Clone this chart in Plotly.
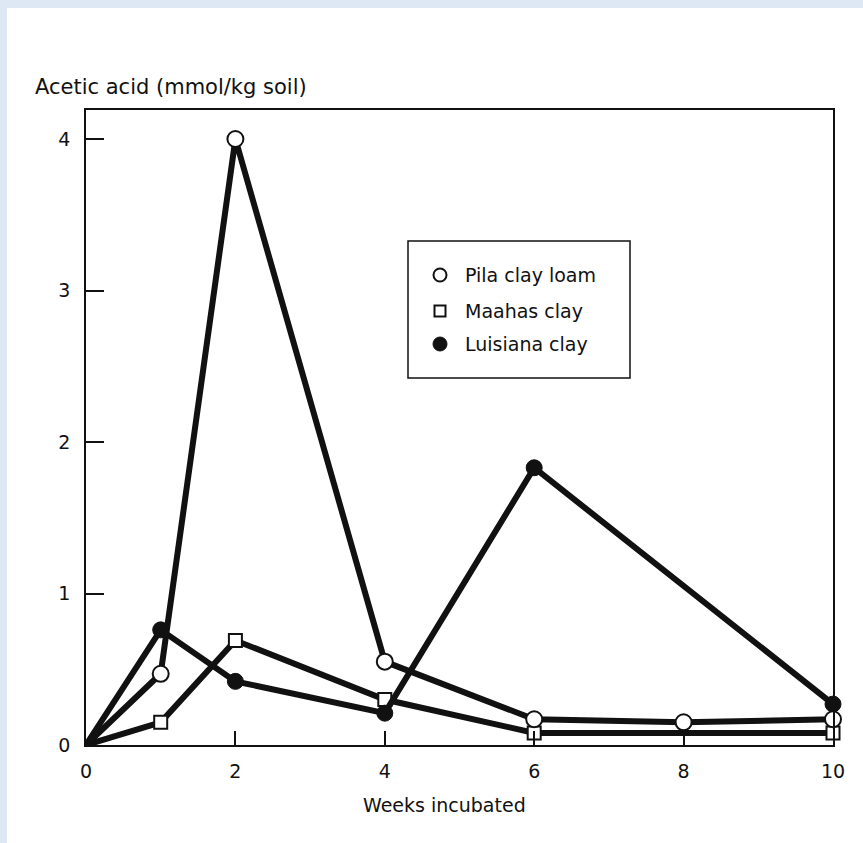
import plotly.graph_objects as go

# Acetic acid in incubated soils (mmol/kg soil) by week
pila_weeks = [0, 1, 2, 4, 6, 8, 10]
pila_acetic = [0, 0.47, 4.0, 0.55, 0.17, 0.15, 0.17]

maahas_weeks = [0, 1, 2, 4, 6, 10]
maahas_acetic = [0, 0.15, 0.69, 0.30, 0.08, 0.08]

luisiana_weeks = [0, 1, 2, 4, 6, 10]
luisiana_acetic = [0, 0.76, 0.42, 0.21, 1.83, 0.27]

x_ticks = [0, 2, 4, 6, 8, 10]
y_ticks = [0, 1, 2, 3, 4]

legend_names = ["Pila clay loam", "Maahas clay", "Luisiana clay"]

W, H = 863, 843
L, R, T, B = 86, 833, 110, 745  # plot area in pixels
FONT = "DejaVu Sans"
INK = "#111111"


def px_x(p):
    return (p - L) / (R - L)


def px_y(p):
    return (B - p) / (B - T)


fig = go.Figure()

line_style = dict(color=INK, width=6)

fig.add_trace(go.Scatter(
    x=maahas_weeks, y=maahas_acetic, mode="lines+markers",
    line=line_style, cliponaxis=False,
    marker=dict(symbol="square", size=13, color="white",
                line=dict(color=INK, width=2),
                opacity=[0, 1, 1, 1, 1, 1]),
    name=legend_names[1], showlegend=False))

fig.add_trace(go.Scatter(
    x=luisiana_weeks, y=luisiana_acetic, mode="lines+markers",
    line=line_style, cliponaxis=False,
    marker=dict(symbol="circle", size=16, color=INK,
                line=dict(color=INK, width=1),
                opacity=[0, 1, 1, 1, 1, 1]),
    name=legend_names[2], showlegend=False))

fig.add_trace(go.Scatter(
    x=pila_weeks, y=pila_acetic, mode="lines+markers",
    line=line_style, cliponaxis=False,
    marker=dict(symbol="circle", size=16, color="white",
                line=dict(color=INK, width=2),
                opacity=[0, 1, 1, 1, 1, 1, 1]),
    name=legend_names[0], showlegend=False))

shapes = []
# white page on a light blue surround
shapes.append(dict(type="rect", xref="paper", yref="paper", layer="below",
                   x0=px_x(7), x1=px_x(W + 5), y0=px_y(H + 5), y1=px_y(8),
                   fillcolor="white", line=dict(width=0)))

# legend box
shapes.append(dict(type="rect", xref="paper", yref="paper",
                   x0=px_x(408), x1=px_x(630), y0=px_y(378), y1=px_y(241),
                   fillcolor="white", line=dict(color=INK, width=1.5)))

sym_x = 440
rows_y = [275, 311, 344]
r = 6.5
# open circle
shapes.append(dict(type="circle", xref="paper", yref="paper",
                   x0=px_x(sym_x - r), x1=px_x(sym_x + r),
                   y0=px_y(rows_y[0] + r), y1=px_y(rows_y[0] - r),
                   fillcolor="white", line=dict(color=INK, width=2)))
# open square
s = 5.5
shapes.append(dict(type="rect", xref="paper", yref="paper",
                   x0=px_x(sym_x - s), x1=px_x(sym_x + s),
                   y0=px_y(rows_y[1] + s), y1=px_y(rows_y[1] - s),
                   fillcolor="white", line=dict(color=INK, width=2)))
# filled circle
shapes.append(dict(type="circle", xref="paper", yref="paper",
                   x0=px_x(sym_x - 7), x1=px_x(sym_x + 7),
                   y0=px_y(rows_y[2] + 7), y1=px_y(rows_y[2] - 7),
                   fillcolor=INK, line=dict(color=INK, width=1)))

annotations = []
for name, yy in zip(legend_names, rows_y):
    annotations.append(dict(text=name, xref="paper", yref="paper",
                            x=px_x(463), y=px_y(yy), xanchor="left",
                            yanchor="middle", showarrow=False,
                            font=dict(family=FONT, size=19, color=INK)))

annotations.append(dict(text="Acetic acid (mmol/kg soil)", xref="paper",
                        yref="paper", x=px_x(33), y=px_y(87),
                        xanchor="left", yanchor="middle", showarrow=False,
                        font=dict(family=FONT, size=21, color=INK)))
annotations.append(dict(text="Weeks incubated", xref="paper", yref="paper",
                        x=px_x(444), y=px_y(805), xanchor="center",
                        yanchor="middle", showarrow=False,
                        font=dict(family=FONT, size=19, color=INK)))

fig.update_layout(
    width=W, height=H,
    margin=dict(l=L, r=W - R, t=T, b=H - B, pad=0),
    paper_bgcolor="#dde8f4",
    plot_bgcolor="white",
    shapes=shapes,
    annotations=annotations,
    showlegend=False,
    font=dict(family=FONT, size=19, color=INK),
)

fig.update_xaxes(
    range=[0, 10], tickvals=x_ticks, ticktext=[str(v) for v in x_ticks],
    ticks="inside", ticklen=14, tickwidth=1.5, tickcolor=INK,
    showline=True, linecolor=INK, linewidth=1.5, mirror=True,
    showgrid=False, zeroline=False, ticklabelstandoff=8,
    tickfont=dict(family=FONT, size=19, color=INK),
)
fig.update_yaxes(
    range=[0, (B - T) / 151.5], tickvals=y_ticks,
    ticktext=[str(v) for v in y_ticks],
    ticks="inside", ticklen=18, tickwidth=1.5, tickcolor=INK,
    showline=True, linecolor=INK, linewidth=1.8, mirror=True,
    showgrid=False, zeroline=False, ticklabelstandoff=10,
    tickfont=dict(family=FONT, size=19, color=INK),
)

fig.write_html("out.html")
